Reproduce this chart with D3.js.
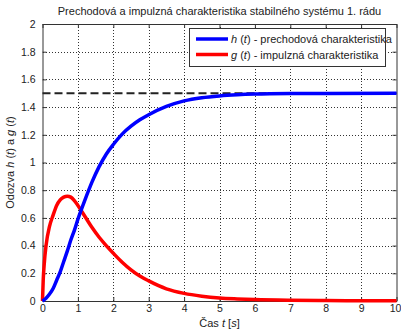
<!DOCTYPE html>
<html>
<head>
<meta charset="utf-8">
<script src="https://cdn.jsdelivr.net/npm/d3@7"></script>
<style>
  body { margin: 0; background: #fff; }
  svg { display: block; font-family: "Liberation Sans", Arial, sans-serif; }
  .grid line { stroke: #333; stroke-width: 1; stroke-dasharray: 1,2; shape-rendering: crispEdges; }
</style>
</head>
<body>
<script>
var tH = [0, 0.1, 0.2, 0.3, 0.4, 0.5, 0.6, 0.7, 0.8, 0.9, 1.0, 1.2, 1.4, 1.6, 1.8, 2.0, 2.25, 2.5, 2.75, 3.0, 3.5, 4.0, 4.5, 5.0, 5.5, 6.0, 7.0, 8.0, 10];
var hVals = [0, 0.02, 0.05, 0.09, 0.15, 0.21, 0.285, 0.36, 0.44, 0.51, 0.59, 0.73, 0.86, 0.97, 1.06, 1.13, 1.205, 1.262, 1.308, 1.345, 1.405, 1.445, 1.468, 1.481, 1.489, 1.494, 1.498, 1.499, 1.5];

var tG = [0, 0.02, 0.05, 0.1, 0.2, 0.3, 0.4, 0.5, 0.6, 0.7, 0.8, 0.9, 1.0, 1.2, 1.4, 1.6, 1.8, 2.0, 2.25, 2.5, 2.75, 3.0, 3.5, 4.0, 4.5, 5.0, 5.5, 6.0, 7.0, 8.0, 9.0, 10];
var gVals = [0, 0.15, 0.27, 0.40, 0.54, 0.62, 0.69, 0.73, 0.75, 0.757, 0.75, 0.725, 0.69, 0.61, 0.53, 0.46, 0.40, 0.345, 0.28, 0.225, 0.18, 0.145, 0.088, 0.055, 0.035, 0.022, 0.015, 0.01, 0.005, 0.003, 0.002, 0.001];

var steadyState = 1.5;
var xTicks = [0, 1, 2, 3, 4, 5, 6, 7, 8, 9, 10];
var yTicks = [0, 0.2, 0.4, 0.6, 0.8, 1, 1.2, 1.4, 1.6, 1.8, 2];

var width = 401, height = 330;
var pLeft = 42.5, pRight = 396.5, pTop = 24, pBottom = 301;

var x = d3.scaleLinear().domain([0, 10]).range([pLeft, pRight]);
var y = d3.scaleLinear().domain([0, 2]).range([pBottom, pTop]);

var svg = d3.select("body").append("svg")
    .attr("width", width)
    .attr("height", height);

// grid
var grid = svg.append("g").attr("class", "grid");
grid.selectAll("line.v")
    .data(xTicks.slice(1, -1))
    .enter().append("line")
    .attr("x1", function(d) { return Math.round(x(d)) + 0.5; })
    .attr("x2", function(d) { return Math.round(x(d)) + 0.5; })
    .attr("y1", pTop).attr("y2", pBottom);
grid.selectAll("line.h")
    .data(yTicks.slice(1, -1))
    .enter().append("line")
    .attr("y1", function(d) { return Math.round(y(d)) + 0.5; })
    .attr("y2", function(d) { return Math.round(y(d)) + 0.5; })
    .attr("x1", pLeft).attr("x2", pRight);

// axes (box, inward ticks on all sides)
function fmt(d) { return d3.format("~g")(d); }

var xAxisG = svg.append("g")
    .attr("transform", "translate(0," + pBottom + ")")
    .call(d3.axisBottom(x).tickValues(xTicks).tickSizeInner(-4).tickSizeOuter(0).tickPadding(4).tickFormat(fmt));
// keep the last label inside the window, as in the original
xAxisG.selectAll(".tick text").filter(function(d) { return d === 10; }).attr("dx", -1.5);
svg.append("g")
    .attr("transform", "translate(0," + pTop + ")")
    .call(d3.axisTop(x).tickValues(xTicks).tickSizeInner(-4).tickSizeOuter(0).tickFormat(""));
svg.append("g")
    .attr("transform", "translate(" + pLeft + ",0)")
    .call(d3.axisLeft(y).tickValues(yTicks).tickSizeInner(-4).tickSizeOuter(0).tickPadding(7).tickFormat(fmt));
svg.append("g")
    .attr("transform", "translate(" + pRight + ",0)")
    .call(d3.axisRight(y).tickValues(yTicks).tickSizeInner(-4).tickSizeOuter(0).tickFormat(""));

svg.selectAll(".domain, .tick line").attr("stroke", "#333");
svg.selectAll(".tick text")
    .attr("font-family", "Liberation Sans, Arial, sans-serif")
    .attr("font-size", 10.5)
    .attr("fill", "#222");

// steady-state dashed line
svg.append("line")
    .attr("x1", x(0)).attr("x2", x(10))
    .attr("y1", y(steadyState)).attr("y2", y(steadyState))
    .attr("stroke", "#222")
    .attr("stroke-width", 2)
    .attr("stroke-dasharray", "8,4");

var line = d3.line()
    .x(function(d) { return x(d[0]); })
    .y(function(d) { return y(d[1]); })
    .curve(d3.curveMonotoneX);

svg.append("path")
    .datum(d3.zip(tG, gVals))
    .attr("d", line)
    .attr("fill", "none")
    .attr("stroke", "#ff0000")
    .attr("stroke-width", 3.5);

svg.append("path")
    .datum(d3.zip(tH, hVals))
    .attr("d", line)
    .attr("fill", "none")
    .attr("stroke", "#0000ff")
    .attr("stroke-width", 3.5);

// title
svg.append("text")
    .attr("x", (pLeft + pRight) / 2)
    .attr("y", 15)
    .attr("text-anchor", "middle")
    .style("font-size", "11px")
    .attr("fill", "#222")
    .text("Prechodová a impulzná charakteristika stabilného systému 1. rádu");

// axis labels
var xl = svg.append("text")
    .attr("x", (pLeft + pRight) / 2)
    .attr("y", 327)
    .attr("text-anchor", "middle")
    .style("font-size", "11px")
    .attr("fill", "#222");
xl.append("tspan").text("Čas ");
xl.append("tspan").attr("font-style", "italic").text("t");
xl.append("tspan").text(" [");
xl.append("tspan").attr("font-style", "italic").text("s");
xl.append("tspan").text("]");

var yl = svg.append("text")
    .attr("transform", "translate(14," + ((pTop + pBottom) / 2) + ") rotate(-90)")
    .attr("text-anchor", "middle")
    .style("font-size", "11px")
    .attr("fill", "#222");
yl.append("tspan").text("Odozva ");
yl.append("tspan").attr("font-style", "italic").text("h");
yl.append("tspan").text(" (");
yl.append("tspan").attr("font-style", "italic").text("t");
yl.append("tspan").text(") a ");
yl.append("tspan").attr("font-style", "italic").text("g");
yl.append("tspan").text(" (");
yl.append("tspan").attr("font-style", "italic").text("t");
yl.append("tspan").text(")");

// legend
var legendItems = [
    {sym: "h", rest: " - prechodová charakteristika", color: "#0000ff"},
    {sym: "g", rest: " - impulzná charakteristika", color: "#ff0000"}
];
var legend = svg.append("g");
legend.append("rect")
    .attr("x", 189.5).attr("y", 28.5)
    .attr("width", 196).attr("height", 38)
    .attr("fill", "#fff")
    .attr("stroke", "#333");
var li = legend.selectAll("g.item")
    .data(legendItems)
    .enter().append("g")
    .attr("transform", function(d, i) { return "translate(0," + (39 + i * 15.5) + ")"; });
li.append("line")
    .attr("x1", 196).attr("x2", 228)
    .attr("stroke", function(d) { return d.color; })
    .attr("stroke-width", 3.5);
var lt = li.append("text")
    .attr("x", 231).attr("y", 4)
    .style("font-size", "11px")
    .attr("fill", "#222");
lt.append("tspan").attr("font-style", "italic").text(function(d) { return d.sym; });
lt.append("tspan").text(" (");
lt.append("tspan").attr("font-style", "italic").text("t");
lt.append("tspan").text(")");
lt.append("tspan").text(function(d) { return d.rest; });
</script>
</body>
</html>
